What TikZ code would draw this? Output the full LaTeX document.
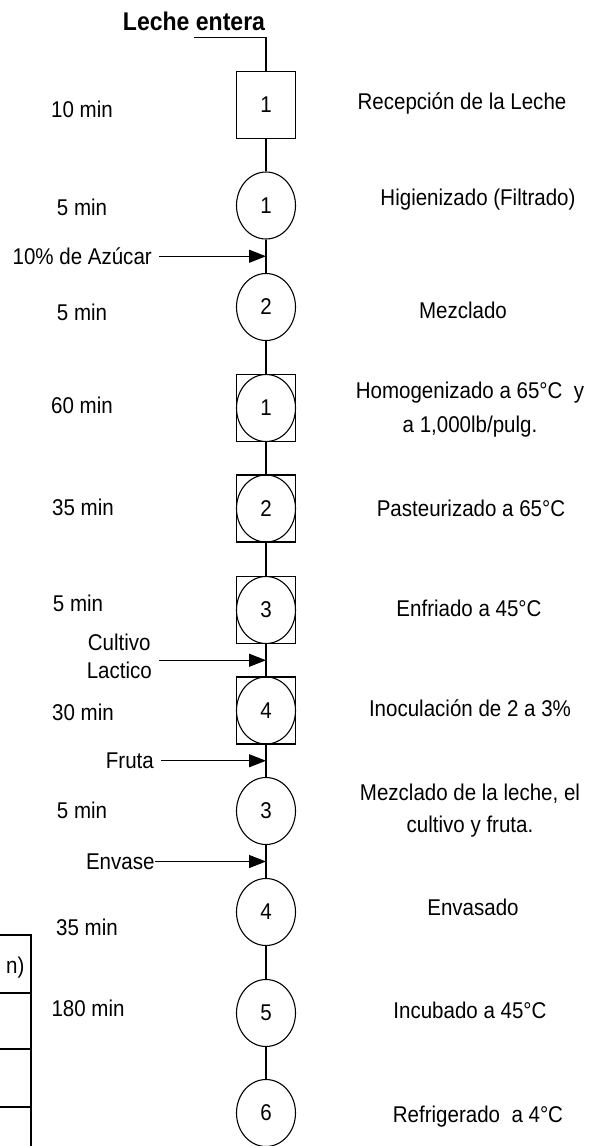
\documentclass[tikz,border=0pt]{standalone}
\usepackage{fontspec}
\setmainfont{Liberation Sans}[FakeStretch=0.9]
\usetikzlibrary{shapes.geometric, arrows.meta, positioning}

\begin{document}
\begin{tikzpicture}[x=.5pt, y=-.5pt, line width=.55pt, >={Triangle[length=8.5pt, width=6.5pt]},
  font=\fontsize{11.4}{16}\selectfont,
  op/.style={draw, ellipse, minimum width=29.5pt, minimum height=33.5pt, inner sep=0pt},
  insp/.style={draw, rectangle, minimum width=29.5pt, minimum height=33.5pt, inner sep=0pt},
  desc/.style={align=center, inner sep=1pt},
  entrada/.style={align=center, font=\fontsize{11.4}{14}\selectfont}]
\useasboundingbox (0,0) rectangle (594,1146);
%
\node[font=\fontsize{12.8}{14}\selectfont\bfseries] (leche) at (194,21) {Leche entera};
%
\node[insp] (r1) at (266,105) {1};
\node[op] (o1) at (266,205.5) {1};
\node[op] (o2) at (266,307) {2};
\node[insp] (c1) at (266,408) {}; \node[op] (c1e) at (c1) {1};
\node[insp] (c2) at (266,508.5) {}; \node[op] (c2e) at (c2) {2};
\node[insp] (c3) at (266,610) {}; \node[op] (c3e) at (c3) {3};
\node[insp] (c4) at (266,710.5) {}; \node[op] (c4e) at (c4) {4};
\node[op] (o3) at (266,811) {3};
\node[op] (o4) at (266,912) {4};
\node[op] (o5) at (266,1013) {5};
\node[op] (o6) at (266,1113) {6};
%
\draw (leche.south) -| (r1);
\draw (r1) -- (o1);
\draw (o1) -- coordinate (j1) (o2);
\draw (o2) -- (c1);
\draw (c1) -- (c2);
\draw (c2) -- (c3);
\draw (c3) -- coordinate (j2) (c4);
\draw (c4) -- coordinate (j3) (o3);
\draw (o3) -- coordinate (j4) (o4);
\draw (o4) -- (o5);
\draw (o5) -- (o6);
%
\node[entrada, left=53.5pt of j1] (azucar) {10\% de Azúcar};
\node[entrada, left=53.5pt of j2, yshift=2pt] (cultivo) {Cultivo\\Lactico};
\node[entrada, left=52.5pt of j3] (fruta) {Fruta};
\node[entrada, left=55.5pt of j4, inner xsep=0pt] (envase) {Envase};
\draw[->] (azucar.east) -- (j1);
\draw[->] (cultivo.east |- j2) -- (j2);
\draw[->] (fruta.east) -- (j3);
\draw[->] (envase.east) -- (j4);
%
\node (t1) at (82,109) {10 min};
\node (t2) at (82,207) {5 min};
\node (t3) at (82,312) {5 min};
\node (t4) at (82,405) {60 min};
\node (t5) at (83,507) {35 min};
\node (t6) at (78,603) {5 min};
\node (t7) at (83,712) {30 min};
\node (t8) at (82,810) {5 min};
\node (t9) at (87,927) {35 min};
\node (t10) at (88,1008) {180 min};
%
\node[desc] (d1) at (462,103) {Recepción de la Leche};
\node[desc] (d2) at (478,200) {Higienizado (Filtrado)};
\node[desc] (d3) at (463,310) {Mezclado};
\node[desc, font=\fontsize{11.4}{17}\selectfont] (d4) at (470,410) {Homogenizado a 65°C~ y\\a 1,000lb/pulg.};
\node[desc] (d5) at (471,508) {Pasteurizado a 65°C};
\node[desc] (d6) at (469,608) {Enfriado a 45°C};
\node[desc] (d7) at (470,708) {Inoculación de 2 a 3\%};
\node[desc] (d8) at (470,811) {Mezclado de la leche, el\\cultivo y fruta.};
\node[desc] (d9) at (473,907) {Envasado};
\node[desc] (d10) at (470,1010) {Incubado a 45°C};
\node[desc] (d11) at (478,1117) {Refrigerado~ a 4°C};
%
\draw (0,935) -- (31,935) -- (31,1146);
\foreach \y in {993,1049,1107}
  \draw (0,\y) -- (31,\y);
\node[anchor=east, inner sep=0pt] (tabla) at (25,968) {n)};
\end{tikzpicture}
\end{document}
